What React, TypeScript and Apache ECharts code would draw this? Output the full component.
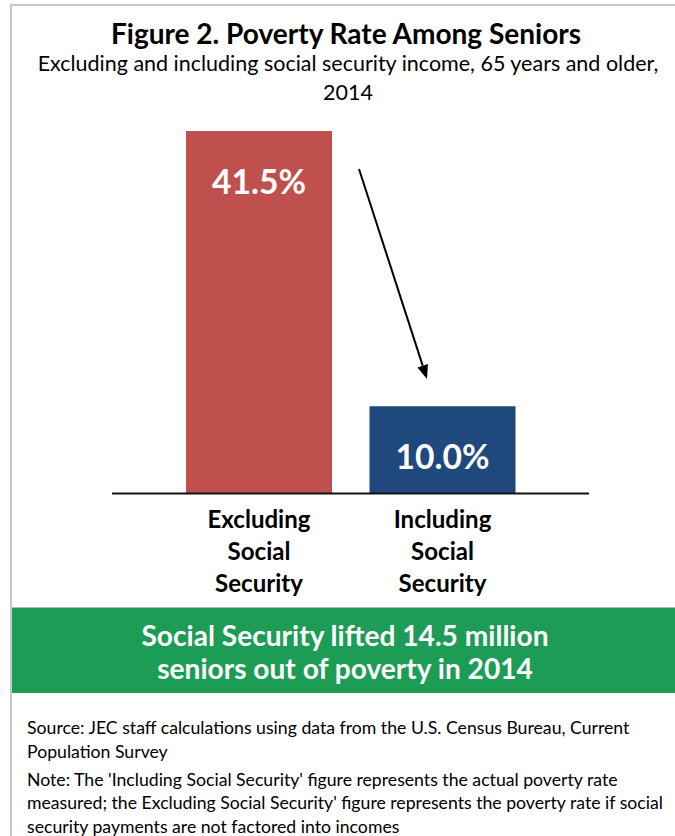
import React, { useEffect, useRef } from "react";
import * as echarts from "echarts";

const categories = ["Excluding Social Security", "Including Social Security"];
const values = [41.5, 10.0];
const barColors = ["#C0504D", "#1F497D"];
const titleText = "Figure 2. Poverty Rate Among Seniors";
const subtitleLines = [
  "Excluding and including social security income, 65 years and older,",
  "2014",
];
const bannerLines = [
  "Social Security lifted 14.5 million",
  "seniors out of poverty in 2014",
];
const footerLines = [
  "Source: JEC staff calculations using data from the U.S. Census Bureau, Current",
  "Population Survey",
  "Note: The 'Including Social Security' figure represents the actual poverty rate",
  "measured; the Excluding Social Security' figure represents the poverty rate if social",
  "security payments are not factored into incomes",
];

const FONT = "Lato";

function fitSize(text: string, weight: string, target: number): number {
  const c = document.createElement("canvas");
  const ctx = c.getContext("2d")!;
  ctx.font = `${weight} 100px ${FONT}`;
  const w = ctx.measureText(text).width;
  return (100 * target) / w;
}

export default function App() {
  const ref = useRef<HTMLDivElement>(null);
  useEffect(() => {
    const el = ref.current!;
    const chart = echarts.init(el, null, { renderer: "svg" });

    const titleSize = fitSize(titleText, "bold", 472);
    const subSize = fitSize(subtitleLines[0], "normal", 622);
    const bannerSize = fitSize(bannerLines[0], "bold", 408);
    const footSize = fitSize(footerLines[3], "normal", 637);
    const valSize = fitSize("41.5%", "bold", 94);
    const catSize = fitSize("Excluding", "bold", 103);

    // arrow
    const a0 = [359, 169];
    const a1 = [427, 379];
    const dx = a1[0] - a0[0];
    const dy = a1[1] - a0[1];
    const len = Math.sqrt(dx * dx + dy * dy);
    const ux = dx / len;
    const uy = dy / len;
    const hl = 14;
    const hw = 5.5;
    const bx = a1[0] - ux * hl;
    const by = a1[1] - uy * hl;
    const px = -uy * hw;
    const py = ux * hw;

    const footerY = [727, 751, 779, 802, 826];

    const graphic: any[] = [
      {
        type: "polyline",
        shape: { points: [[11, 836], [11, 5], [675, 5]] },
        style: { stroke: "#c8c8c8", lineWidth: 2, fill: null },
        silent: true,
      },
      {
        type: "text",
        x: 346,
        y: 33,
        style: {
          text: titleText,
          font: `bold ${titleSize}px ${FONT}`,
          fill: "#000",
          textAlign: "center",
          textVerticalAlign: "middle",
        },
      },
      ...subtitleLines.map((t, i) => ({
        type: "text",
        x: 348,
        y: 63 + i * 29,
        style: {
          text: t,
          font: `normal ${subSize}px ${FONT}`,
          fill: "#000",
          textAlign: "center",
          textVerticalAlign: "middle",
        },
      })),
      {
        type: "line",
        shape: { x1: 112, y1: 493.5, x2: 589, y2: 493.5 },
        style: { stroke: "#111", lineWidth: 2 },
        z: 10,
      },
      {
        type: "line",
        shape: { x1: a0[0], y1: a0[1], x2: bx, y2: by },
        style: { stroke: "#000", lineWidth: 2 },
        z: 10,
      },
      {
        type: "polygon",
        shape: {
          points: [
            [a1[0], a1[1]],
            [bx + px, by + py],
            [bx - px, by - py],
          ],
        },
        style: { fill: "#000" },
        z: 10,
      },
      {
        type: "line",
        shape: { x1: 12, y1: 607.5, x2: 675, y2: 607.5 },
        style: { stroke: "#b5b5b5", lineWidth: 1 },
      },
      {
        type: "rect",
        shape: { x: 12, y: 608, width: 663, height: 85 },
        style: { fill: "#1D9C55" },
      },
      ...bannerLines.map((t, i) => ({
        type: "text",
        x: 345,
        y: 635 + i * 33,
        z: 5,
        style: {
          text: t,
          font: `bold ${bannerSize}px ${FONT}`,
          fill: "#fff",
          textAlign: "center",
          textVerticalAlign: "middle",
        },
      })),
      ...footerLines.map((t, i) => ({
        type: "text",
        x: 27,
        y: footerY[i],
        style: {
          text: t,
          font: `normal ${footSize}px ${FONT}`,
          fill: "#000",
          textAlign: "left",
          textVerticalAlign: "middle",
        },
      })),
    ];

    chart.setOption({
      animation: false,
      backgroundColor: "#fff",
      grid: { left: 167.25, right: 140.75, top: 100.5, bottom: 342.5 },
      xAxis: {
        type: "category",
        data: categories,
        axisLine: { show: false },
        axisTick: { show: false },
        axisLabel: {
          interval: 0,
          margin: 9,
          color: "#000",
          fontFamily: FONT,
          fontWeight: "bold",
          fontSize: catSize,
          lineHeight: 32,
          formatter: (v: string) => v.split(" ").join("\n"),
        },
      },
      yAxis: {
        type: "value",
        min: 0,
        max: 45,
        show: false,
        splitLine: { show: false },
      },
      series: [
        {
          type: "bar",
          barWidth: 146,
          data: values.map((v, i) => ({ value: v, itemStyle: { color: barColors[i] } })),
          label: {
            show: true,
            position: "insideTop",
            distance: 49.5 - valSize / 2,
            color: "#fff",
            fontFamily: FONT,
            fontWeight: "bold",
            fontSize: valSize,
            formatter: (p: any) => `${Number(p.value).toFixed(1)}%`,
          },
        },
      ],
      graphic,
    });

    return () => chart.dispose();
  }, []);

  return (
    <div
      ref={ref}
      style={{ position: "absolute", left: 0, top: 0, width: 675, height: 836, background: "#fff" }}
    />
  );
}
